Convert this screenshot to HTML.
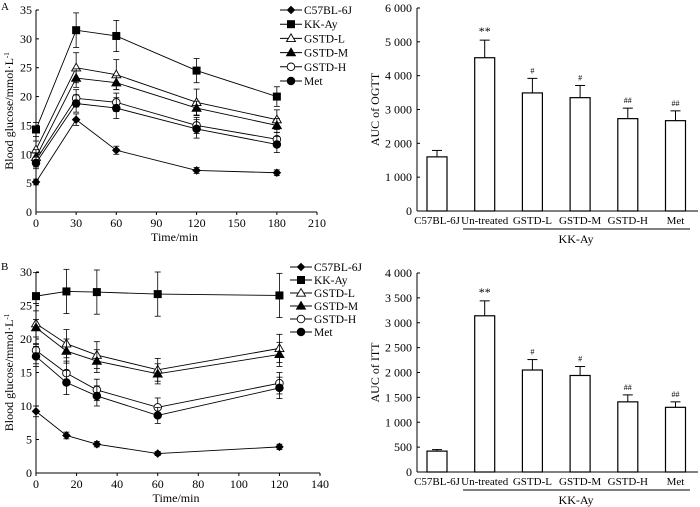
<!DOCTYPE html>
<html><head><meta charset="utf-8"><style>
body{margin:0;background:#fff}
svg{display:block;font-family:"Liberation Serif",serif;font-size:12px}
</style></head><body>
<svg id="fig" width="700" height="507" viewBox="0 0 700 507">
<text x="1" y="10" font-size="11">A</text>
<text x="1" y="270" font-size="11">B</text>
</svg>
<script>
const NS='http://www.w3.org/2000/svg';
const svg=document.getElementById('fig');
function mk(tag,attrs,parent){const e=document.createElementNS(NS,tag);for(const k in attrs)e.setAttribute(k,attrs[k]);(parent||svg).appendChild(e);return e;}

const seriesNames=['C57BL-6J','KK-Ay','GSTD-L','GSTD-M','GSTD-H','Met'];
const markers=['diamond','square','tri-open','tri','circle-open','circle'];
// Panel A (OGTT)
const timesA=[0,30,60,120,180];
const c57A=[5.2,16,10.7,7.2,6.8];
const kkA=[14.3,31.5,30.5,24.5,20];
const lA=[10.8,25,23.8,19,16];
const mA=[9.5,23.2,22.4,18,15];
const hA=[9,19.7,19,15,12.6];
const metA=[8.5,18.8,18,14.4,11.7];
const errA=[[0.5,1,0.7,0.5,0.5],[1.2,3,2.7,2.1,1.7],[1.5,2.6,2.6,2.3,1.7],[1.3,1.6,1.2,1.2,1.2],[1.2,1.5,1.6,1.4,1.2],[1,1.5,1.8,1.6,1.4]];
const xTicksA=[0,30,60,90,120,150,180,210];
const yTicksA=[0,5,10,15,20,25,30,35];
// Panel B (ITT)
const timesB=[0,15,30,60,120];
const c57B=[9.2,5.6,4.3,2.9,3.9];
const kkB=[26.4,27.1,27,26.7,26.5];
const lB=[22.3,19.3,17.6,15.4,18.6];
const mB=[21.7,18.2,16.7,14.8,17.7];
const hB=[18.3,14.9,12.4,9.8,13.4];
const metB=[17.4,13.5,11.5,8.6,12.7];
const errB=[[0.8,0.5,0.4,0.3,0.4],[3.5,3.3,3.3,3.3,3.3],[3,2.1,2,1.7,2.1],[2.5,1.8,1.7,1.5,1.8],[2,1.8,1.6,1.4,1.6],[1.5,1.8,1.5,1.2,1.6]];
const xTicksB=[0,20,40,60,80,100,120,140];
const yTicksB=[0,5,10,15,20,25,30];
// Bar charts
const barCats=['C57BL-6J','Un-treated','GSTD-L','GSTD-M','GSTD-H','Met'];
const ogtt=[1600,4530,3490,3350,2730,2670];
const ogttErr=[190,520,430,360,310,290];
const ogttMarks=['','**','#','#','##','##'];
const itt=[420,3140,2050,1940,1410,1300];
const ittErr=[30,300,210,180,140,110];
const ittMarks=['','**','#','#','##','##'];
const yTicksOgtt=[0,1000,2000,3000,4000,5000,6000];
const yTicksItt=[0,500,1000,1500,2000,2500,3000,3500,4000];

function fmt(v){return v>=1000?Math.floor(v/1000)+' '+String(v%1000).padStart(3,'0'):String(v);}

function marker(g,type,x,y){
  const s=4.3;
  if(type==='diamond')return mk('polygon',{points:`${x},${y-s} ${x+s},${y} ${x},${y+s} ${x-s},${y}`,fill:'#000'},g);
  if(type==='square')return mk('rect',{x:x-4,y:y-4,width:8,height:8,fill:'#000'},g);
  if(type==='tri'||type==='tri-open')return mk('polygon',{points:`${x},${y-4.5} ${x+4.5},${y+3.2} ${x-4.5},${y+3.2}`,fill:type==='tri'?'#000':'#fff',stroke:'#000','stroke-width':0.9},g);
  return mk('circle',{cx:x,cy:y,r:3.8,fill:type==='circle'?'#000':'#fff',stroke:'#000','stroke-width':0.9},g);
}

function lineChart(id,x0,x1,y0,y1,xmax,ymax,times,data,errs,xt,yt,legY,legX){
  const g=mk('g',{});
  
  
  const X=v=>x0+(x1-x0)*v/xmax, Y=v=>y0-(y0-y1)*v/ymax;
  mk('line',{x1:x0,y1:y0,x2:x1,y2:y0,stroke:'#000'},g);
  mk('line',{x1:x0,y1:y0,x2:x0,y2:y1,stroke:'#000'},g);
  xt.forEach(t=>{mk('line',{x1:X(t),y1:y0,x2:X(t),y2:y0+3,stroke:'#000'},g);
    const tx=mk('text',{x:X(t),y:y0+15,'text-anchor':'middle'},g);tx.textContent=t;
    
    });
  yt.forEach(t=>{mk('line',{x1:x0,y1:Y(t),x2:x0+3,y2:Y(t),stroke:'#000'},g);
    const tx=mk('text',{x:x0-4,y:Y(t)+4,'text-anchor':'end'},g);tx.textContent=t;
    
    });
  const xl=mk('text',{x:(x0+x1)/2-2,y:y0+29,'text-anchor':'middle'},g);xl.textContent='Time/min';
  
  
  const yl=mk('text',{transform:`translate(${x0-23},${(y0+y1)/2}) rotate(-90)`,'text-anchor':'middle'},g);
  yl.innerHTML='Blood glucose/mmol·L<tspan dy="-4" font-size="7">-1</tspan>';
  
  
  data.forEach((d,i)=>{
    const sg=mk('g',{},g);
    
    
    mk('polyline',{points:d.map((v,j)=>X(times[j])+','+Y(v)).join(' '),fill:'none',stroke:'#000','stroke-width':0.9},sg);
    d.forEach((v,j)=>{const e=errs[i][j],x=X(times[j]);
      mk('line',{x1:x,y1:Y(v-e),x2:x,y2:Y(v+e),stroke:'#000','stroke-width':0.8},sg);
      mk('line',{x1:x-3,y1:Y(v+e),x2:x+3,y2:Y(v+e),stroke:'#000','stroke-width':0.8},sg);
      mk('line',{x1:x-3,y1:Y(v-e),x2:x+3,y2:Y(v-e),stroke:'#000','stroke-width':0.8},sg);
      marker(sg,markers[i],x,Y(v));});
  });
  seriesNames.forEach((n,i)=>{
    const lg=mk('g',{},g);
    
    
    const y=legY+i*(id==='ogtt-line-chart'?14.2:13);
    mk('line',{x1:legX,y1:y,x2:legX+22,y2:y,stroke:'#000'},lg);
    marker(lg,markers[i],legX+11,y);
    const t=mk('text',{x:legX+24,y:y+4,'font-size':11.5},lg);t.textContent=n;
  });
}

function barChart(id,x0,x1,y0,y1,ymax,vals,errs,marks,yt,ylabel){
  const g=mk('g',{});
  
  
  const Y=v=>y0-(y0-y1)*v/ymax;
  const cx=i=>437+i*47.7;
  mk('line',{x1:x0,y1:y0,x2:x1,y2:y0,stroke:'#000'},g);
  mk('line',{x1:x0,y1:y0,x2:x0,y2:y1,stroke:'#000'},g);
  yt.forEach(t=>{mk('line',{x1:x0,y1:Y(t),x2:x0+3,y2:Y(t),stroke:'#000'},g);
    const tx=mk('text',{x:x0-5,y:Y(t)+4,'text-anchor':'end'},g);tx.textContent=fmt(t);
    
    });
  const yl=mk('text',{transform:`translate(${x0-38},${(y0+y1)/2}) rotate(-90)`,'text-anchor':'middle'},g);
  yl.textContent=ylabel;
  
  
  vals.forEach((v,i)=>{
    const x=cx(i),e=errs[i];
    const b=mk('rect',{x:x-10,y:Y(v),width:20,height:y0-Y(v),fill:'#fff',stroke:'#000','stroke-width':1.2},g);
    
    
    mk('line',{x1:x,y1:Y(v),x2:x,y2:Y(v+e),stroke:'#000'},g);
    mk('line',{x1:x-5,y1:Y(v+e),x2:x+5,y2:Y(v+e),stroke:'#000'},g);
    if(marks[i]){const m=mk('text',{x:x,y:Y(v+e)-5,'text-anchor':'middle','font-size':marks[i]==='**'?12:8},g);m.textContent=marks[i];
      
      }
    const t=mk('text',{x:x,y:y0+13,'text-anchor':'middle','font-size':11},g);t.textContent=barCats[i];
    
    
  });
  mk('line',{x1:463,y1:y0+18,x2:690,y2:y0+18,stroke:'#000'},g);
  const k=mk('text',{x:576,y:y0+32,'text-anchor':'middle'},g);k.textContent='KK-Ay';
  
  
}

lineChart('ogtt-line-chart',36,317,212,10,210,35,timesA,[c57A,kkA,lA,mA,hA,metA],errA,xTicksA,yTicksA,10,280);
lineChart('itt-line-chart',36,320,473,272,140,30,timesB,[c57B,kkB,lB,mB,hB,metB],errB,xTicksB,yTicksB,267,290);
barChart('ogtt-bar-chart',417,698,211,8,6000,ogtt,ogttErr,ogttMarks,yTicksOgtt,'AUC of OGTT');
barChart('itt-bar-chart',417,698,472,273,4000,itt,ittErr,ittMarks,yTicksItt,'AUC of ITT');
</script>
</body></html>
